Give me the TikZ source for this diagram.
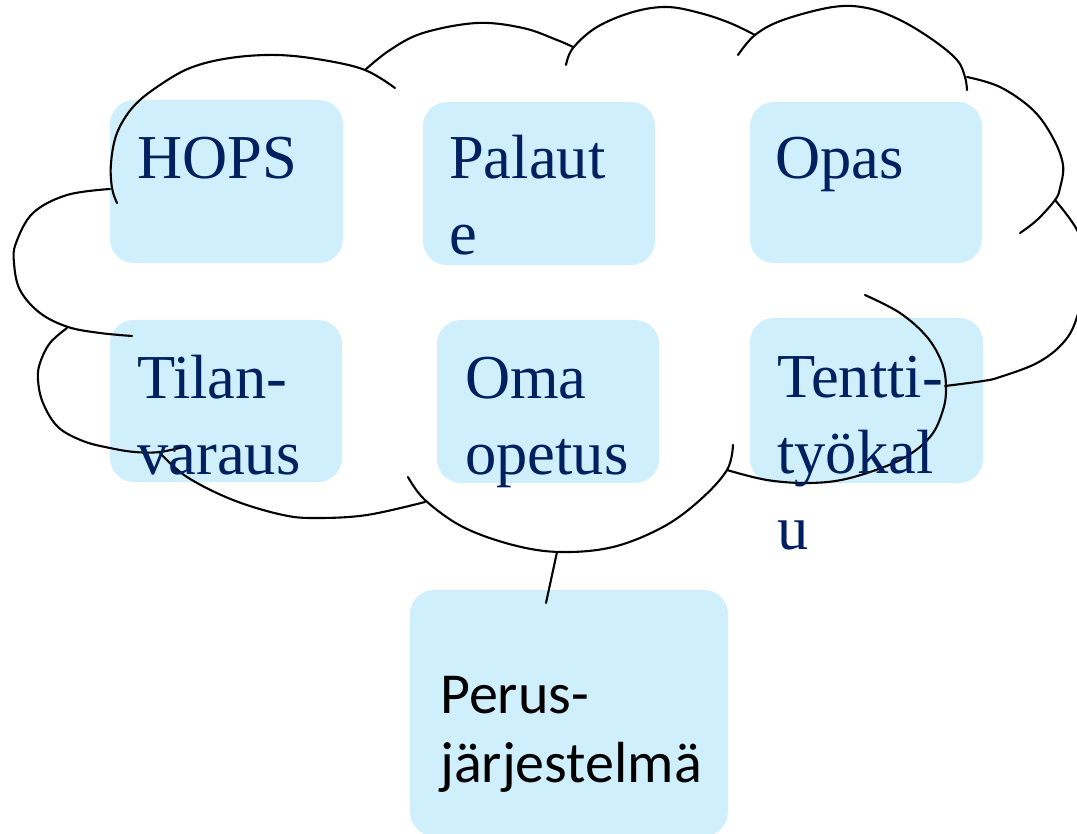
\documentclass[tikz,border=0pt]{standalone}
\usepackage{fontspec}
\setmainfont{Liberation Serif}
\newfontfamily\calib{Carlito}
\definecolor{boxfill}{RGB}{208,239,252}
\definecolor{navy}{RGB}{0,32,96}
\tikzset{
  tile/.style={fill=boxfill, draw=none, rounded corners=24pt, inner sep=0pt},
  lbl/.style={anchor=base west, inner sep=0pt, text=navy, align=left,
     font=\fontsize{62.5}{76}\selectfont},
  plbl/.style={anchor=base west, inner sep=0pt, text=black, align=left,
     font=\calib\fontsize{58}{69}\selectfont},
  lobe/.style={line width=2.1pt, draw=black, line cap=round, line join=round},
}
\begin{document}
\begin{tikzpicture}[x=1pt,y=-1pt]
\useasboundingbox (0,0) rectangle (1077,834);
% tiles
\node[tile, minimum width=233pt, minimum height=163pt] (bhops) at (226.5,181.5) {};
\node[tile, minimum width=232pt, minimum height=163pt] (bpal) at (539,183.5) {};
\node[tile, minimum width=232pt, minimum height=161pt] (bopas) at (866,182.5) {};
\node[tile, minimum width=232pt, minimum height=162pt] (btil) at (226,401) {};
\node[tile, minimum width=222pt, minimum height=163pt] (boma) at (548,401.5) {};
\node[tile, minimum width=233pt, minimum height=165pt] (bten) at (866.5,400.5) {};
\node[tile, minimum width=318pt, minimum height=246pt] (bper) at (569,713) {};
% cloud
\begin{scope}
\clip (0,0) rectangle (1077,834);
% upper-left lobe
\draw[lobe] plot[smooth, tension=0.6] coordinates {(117,203) (112,188) (111,163) (117,133) (133,107) (157,87) (190,68) (230,58) (277,55) (323,60) (365,70) (395,88)};
% top lobe 2
\draw[lobe] plot[smooth, tension=0.6] coordinates {(365,70) (390,50) (423,33) (477,23) (523,28) (557,40) (573,47)};
% top lobe 3
\draw[lobe] plot[smooth, tension=0.6] coordinates {(566,65) (573,48) (597,27) (633,12) (667,7) (700,13) (730,23) (755,35)};
% top lobe 4
\draw[lobe] plot[smooth, tension=0.6] coordinates {(738,55) (755,35) (783,20) (833,7) (867,8) (900,20) (933,40) (957,60) (965,77) (967,90)};
% upper-right lobe
\draw[lobe] plot[smooth, tension=0.6] coordinates {(967,77) (1000,87) (1033,110) (1053,138) (1063,165) (1060,188) (1055,200) (1037,220) (1020,233)};
% right lobe (partly outside)
\draw[lobe] plot[smooth, tension=0.6] coordinates {(1055,200) (1077,230) (1088,265) (1077,317) (1063,343) (1037,363) (1000,377) (983,381) (945,386)};
% lower-right lobe
\draw[lobe] plot[smooth, tension=0.6] coordinates {(865,295) (900,313) (927,337) (942,363) (946,387) (943,410) (930,437) (900,460) (850,478) (810,483) (767,480) (727,470)};
% bottom-middle lobe
\draw[lobe] plot[smooth, tension=0.6] coordinates {(408,477) (425,500) (463,527) (513,545) (560,552) (613,547) (663,527) (700,500) (727,470) (733,445)};
% bottom-left lobe
\draw[lobe] plot[smooth, tension=0.6] coordinates {(160,453) (187,477) (233,500) (283,515) (317,518) (367,515) (425,502)};
% left-lower lobe
\draw[lobe] plot[smooth, tension=0.6] coordinates {(67,328) (50,343) (40,363) (38,380) (43,403) (58,427) (83,441) (110,448) (135,452) (160,452) (187,446)};
% left-upper lobe
\draw[lobe] plot[smooth, tension=0.6] coordinates {(110,189) (67,195) (33,213) (16,243) (14,263) (20,290) (40,313) (68,327) (100,333) (132,336)};
\end{scope}
% connector
\coordinate (cbottom) at (557,552);
\coordinate (pend) at (546,603);
\draw[lobe] (cbottom) -- (pend);
% labels (base anchor = baseline of the last line)
\node[lbl] (thops) at (137,179) {HOPS};
\node[lbl] (tpal) at (449,255) {Palaut\\e};
\node[lbl] (topas) at (775,179) {Opas};
\node[lbl] (ttil) at (137,474) {Tilan-\\varaus};
\node[lbl] (toma) at (465,474) {Oma\\opetus};
\node[lbl] (tten) at (777,549) {Tentti-\\työkal\\u};
\node[plbl] (tper) at (440,782) {Perus-\\järjestelmä};
\end{tikzpicture}
\end{document}
